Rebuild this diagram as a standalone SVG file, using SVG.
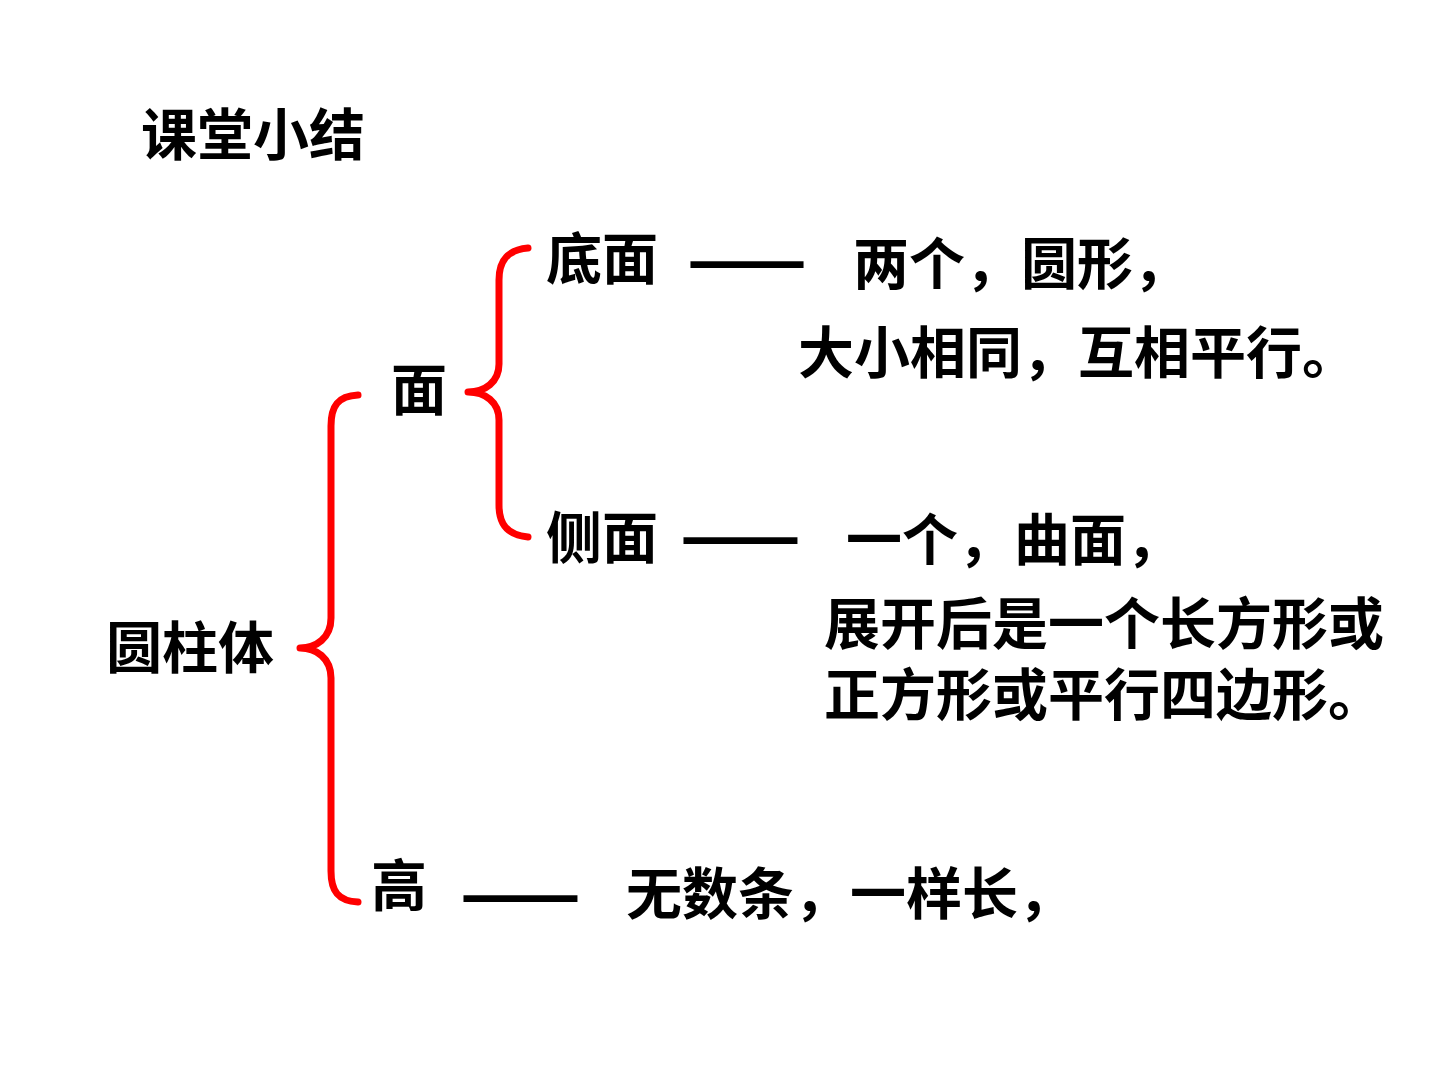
<svg xmlns="http://www.w3.org/2000/svg" width="1440" height="1080" viewBox="0 0 1440 1080">
<style>
.t{font-family:"Noto Sans CJK SC","Noto Sans",sans-serif;font-weight:bold;font-size:56px;fill:#000}
.d{font-family:"Noto Sans CJK SC","Noto Sans",sans-serif;font-weight:bold;font-size:56px;fill:#000;stroke:#000;stroke-width:1.5}
.br{fill:none;stroke:#ff0000;stroke-width:7;stroke-linecap:round;stroke-linejoin:round}
</style>
<rect width="1440" height="1080" fill="#fff"/>
<g id="title"><text class="t" x="141" y="155">课堂小结</text></g>
<g id="cylinder"><text class="t" x="106" y="668">圆柱体</text></g>
<g id="face"><text class="t" x="391" y="410">面</text></g>
<g id="height"><text class="t" x="371" y="906">高</text></g>
<g id="base"><text class="t" x="546" y="279">底面</text></g>
<g id="side"><text class="t" x="546" y="558">侧面</text></g>
<g id="base-desc">
<text class="t" x="853" y="284">两个，圆形，</text>
<text class="t" x="798" y="373">大小相同，互相平行。</text>
</g>
<g id="side-desc">
<text class="t" x="846" y="560">一个，曲面，</text>
<text class="t" x="824" y="644">展开后是一个长方形或</text>
<text class="t" x="824" y="715">正方形或平行四边形。</text>
</g>
<g id="height-desc"><text class="t" x="626" y="914">无数条，一样长，</text></g>
<g id="connectors">
<path class="br" d="M358,395 C338,396 331,406 331,426 L331,618 C331,638 316,648 300,648 C316,648 331,658 331,678 L331,871 C331,891 338,901 358,902"/>
<path class="br" d="M528,248 C506,250 499,262 499,280 L499,364 C499,382 485,392 468,392 C485,392 499,402 499,420 L499,505 C499,523 506,535 528,537"/>
<text class="d" x="688" y="281" textLength="118" lengthAdjust="spacingAndGlyphs">——</text>
<text class="d" x="681" y="557" textLength="119" lengthAdjust="spacingAndGlyphs">——</text>
<text class="d" x="461" y="915" textLength="119" lengthAdjust="spacingAndGlyphs">——</text>
</g>
</svg>
